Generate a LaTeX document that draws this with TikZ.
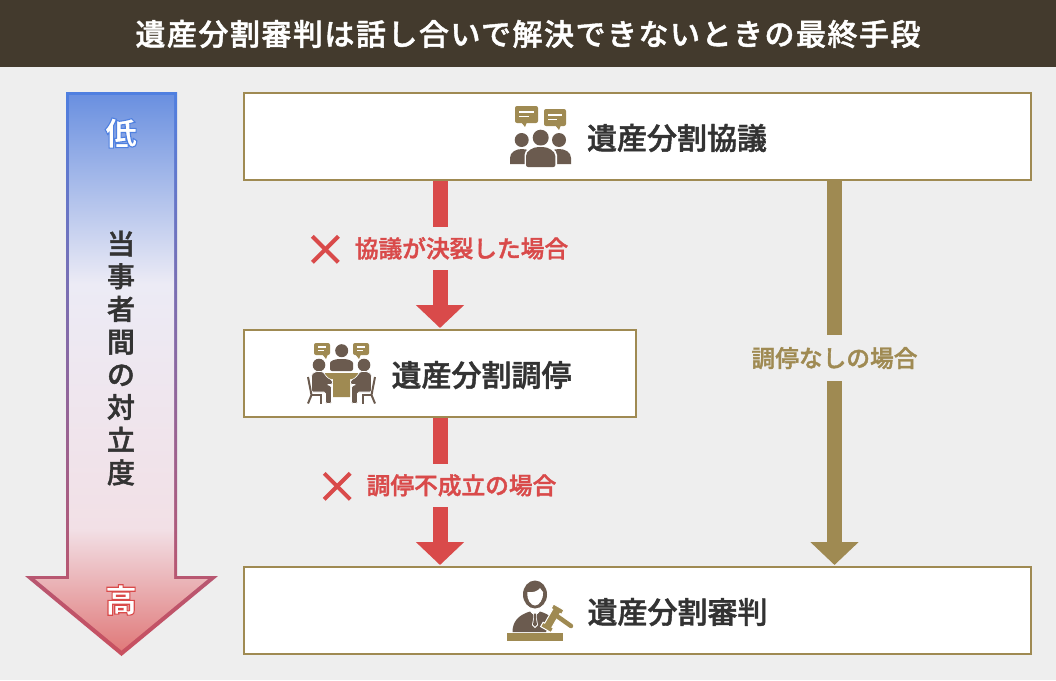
\documentclass[tikz,border=0pt]{standalone}
\usepackage{fontspec}
\setmainfont{Noto Sans CJK JP}
\newfontfamily\titlefont[LetterSpace=5,FakeBold=1.5]{Noto Sans CJK JP Medium}
\newfontfamily\medfont[FakeBold=1.5]{Noto Sans CJK JP Medium}
\newfontfamily\markfont{Noto Sans CJK JP Black}
\usetikzlibrary{arrows.meta,calc,positioning}
\definecolor{pagebg}{HTML}{EEEEEE}
\definecolor{titlebg}{HTML}{433A2D}
\definecolor{gold}{HTML}{9F8A52}
\definecolor{umber}{HTML}{6B5B4F}
\definecolor{flowred}{HTML}{D94A4A}
\definecolor{inkgray}{HTML}{333333}
\definecolor{lowblue}{HTML}{4F7FE0}
\definecolor{highred}{HTML}{C9505F}
\definecolor{fillhigh}{HTML}{E07A7A}
\definecolor{fillpink}{HTML}{F2E0E6}
\definecolor{fillpale}{HTML}{ECEBF5}
\definecolor{filllow}{HTML}{6A90E0}
\pgfdeclareverticalshading{scalefill}{100bp}{color(0bp)=(fillhigh);color(25bp)=(fillhigh);color(36bp)=(fillpink);color(58bp)=(fillpale);color(75bp)=(filllow);color(100bp)=(filllow)}
\pgfdeclareverticalshading{scaleline}{100bp}{color(0bp)=(highred);color(25bp)=(highred);color(75bp)=(lowblue);color(100bp)=(lowblue)}
\tikzset{%
  stagebox/.style={draw=gold,line width=2pt,fill=white,inner sep=0pt,minimum height=87pt},
  stagetext/.style={text=inkgray,font=\medfont\fontsize{30}{36}\selectfont,inner sep=0pt},
  flowlabel/.style={fill=pagebg,inner sep=0pt,minimum height=43pt,font=\medfont\fontsize{23.7}{28}\selectfont,pos=.455},
  redflow/.style={draw=flowred,line width=15pt,-{Triangle[length=23pt,width=47pt]},shorten >=1pt},
  goldflow/.style={draw=gold,line width=15pt,-{Triangle[length=23pt,width=47pt]},shorten >=1pt},
  crossmark/.style={draw=flowred,line width=4pt},
  levelmark/.style={inner sep=0pt,font=\markfont\fontsize{32}{34}\selectfont}
}
% white letter with a coloured edge: the stroke colour as r g b
\newcommand{\edgedmark}[2]{\special{pdf:code q 2 Tr 1.1 w #1 RG 1 1 1 rg}#2\special{pdf:code Q}}
% speech bubble: left, top, right, bottom, tail x
\newcommand{\talkbubble}[5]{%
  \fill[gold,rounded corners=2pt] (#1,#2) rectangle (#3,#4);
  \fill[gold] ({#5-3},{#4-1}) -- ({#5+3},{#4-1}) -- ({#5+1},{#4+4}) -- cycle;
  \draw[white,line width=1.5pt] ({#1+4},{#2+(#4-#2)*.35}) -- ({#3-4},{#2+(#4-#2)*.35});
  \draw[white,line width=1.5pt] ({#1+4},{#2+(#4-#2)*.62}) -- ({(#1+#3)/2+2},{#2+(#4-#2)*.62});
}
\begin{document}
\begin{tikzpicture}[x=1pt,y=-1pt]
  \fill[pagebg] (0,0) rectangle (1056,680);
  \fill[titlebg] (0,0) rectangle (1056,67);

  % conflict scale
  \path[shading=scaleline] (66,92) -- (177,92) -- (177,576) -- (218,576) -- (121.5,656) -- (25,576) -- (66,576) -- cycle;
  \path[shading=scalefill] (69,95) -- (174,95) -- (174,579) -- (208,579) -- (121.5,650.5) -- (35,579) -- (69,579) -- cycle;
  \node[levelmark] (low) at (121,133) {\edgedmark{.31 .5 .88}{低}};
  \node[levelmark] (high) at (121,600) {\edgedmark{.85 .29 .29}{高}};
  \node[text=inkgray,inner sep=0pt,align=center,font=\medfont\fontsize{28}{32.7}\selectfont] (scale) at (121,358) {当\\事\\者\\間\\の\\対\\立\\度};

  \node[text=white,inner sep=0pt] (title) at (528,34) {\titlefont\fontsize{30}{36}\selectfont 遺産分割審判は話し合いで解決できないときの最終手段};

  % stages
  \node[stagebox,minimum width=787pt] (kyogi) at (637.5,136.5) {};
  \node[stagebox,minimum width=392pt] (chotei) at (440,373.5) {};
  \node[stagebox,minimum width=787pt] (shinpan) at (637.5,610.5) {};
  \node[stagetext] (kyogi text) at (677,138) {遺産分割協議};
  \node[stagetext] (chotei text) at (481.5,375) {遺産分割調停};
  \node[stagetext] (shinpan text) at (677.5,612) {遺産分割審判};

  % flows
  \draw[redflow] (chotei.north |- kyogi.south) -- node[flowlabel,text=flowred,xshift=21.5pt] (lbl1) {協議が決裂した場合} (chotei.north);
  \draw[redflow] (chotei.south) -- node[flowlabel,text=flowred,xshift=21.5pt] (lbl2) {調停不成立の場合} (chotei.south |- shinpan.north);
  \draw[goldflow] ([xshift=197pt] kyogi.south) -- node[flowlabel,text=gold,pos=.46,minimum height=46pt] (lbl3) {調停なしの場合} ([xshift=197pt] shinpan.north);
  \foreach \n in {lbl1,lbl2} {%
    \draw[crossmark] ([shift={(-35,-12)}] \n.west) -- ([shift={(-9,14)}] \n.west);
    \draw[crossmark] ([shift={(-9,-12)}] \n.west) -- ([shift={(-35,14)}] \n.west);
  }

  % icon: group talk
  \talkbubble{515}{106}{538}{123}{524}
  \talkbubble{544}{109}{566}{126}{558}
  \fill[umber] (521.7,140) circle (7);
  \fill[umber] (559,140) circle (7);
  \fill[umber] (510,164) -- (510,158) .. controls (510,152) and (516,149) .. (522,149) .. controls (528,149) and (532,152) .. (534,156) -- (534,164) -- cycle;
  \fill[umber] (571,164) -- (571,158) .. controls (571,152) and (565,149) .. (559,149) .. controls (553,149) and (549,152) .. (547,156) -- (547,164) -- cycle;
  \fill[white] (540.7,137.7) circle (9.5);
  \fill[umber] (540.7,137.7) circle (8);
  \fill[white,rounded corners=3pt] (524.5,168) -- (524.5,158) .. controls (524.5,150) and (532,145.5) .. (540.7,145.5) .. controls (549,145.5) and (557,150) .. (557,158) -- (557,168) -- cycle;
  \fill[umber,rounded corners=2pt] (526,167) -- (526,158) .. controls (526,151) and (533,147) .. (540.7,147) .. controls (548,147) and (555.3,151) .. (555.3,158) -- (555.3,167) -- cycle;

  % icon: mediation table
  \talkbubble{314}{343}{330}{355}{325}
  \talkbubble{353}{343}{369}{355}{358}
  \fill[umber] (341.7,350.7) circle (6.5);
  \fill[umber,rounded corners=2pt] (330,371) -- (330,365) .. controls (330,361) and (335,359) .. (341.7,359) .. controls (348,359) and (353,361) .. (353,365) -- (353,371) -- cycle;
  \fill[gold] (325,373) -- (358,373) -- (358,379) -- (350,379) -- (350,397) -- (333,397) -- (333,379) -- (325,379) -- cycle;
  \foreach \s in {1,-1} {%
    \begin{scope}[shift={(341.5,0)},xscale=\s]
      \fill[umber] (-22.5,365) circle (6.3);
      \fill[umber,draw=white,line width=.6pt,rounded corners=1.5pt] (-30,378) .. controls (-30,373) and (-26,371.5) .. (-22,371.5) .. controls (-19,371.5) and (-17,373) .. (-15,377) -- (-9,380.5) -- (-9,384.5) -- (-15,384.5) -- (-10,386) -- (-10,403.5) -- (-16,403.5) -- (-16,392) -- (-30,392) -- cycle;
      \draw[umber,line width=2pt] (-33.5,377) -- (-30,395) -- (-33.5,403.5);
      \draw[umber,line width=2pt] (-30,395) -- (-21,395) -- (-21,403.5);
    \end{scope}
  }

  % icon: judge and gavel
  \fill[umber] (535,594.5) ellipse (12 and 14);
  \fill[white] (527.5,592) .. controls (533,593) and (538,591) .. (540,588) .. controls (541,590) and (542.5,591) .. (543,592) .. controls (543.5,600) and (539,605.5) .. (535,605.5) .. controls (531,605.5) and (526.5,600) .. (527.5,592) -- cycle;
  \fill[umber] (512.5,632) .. controls (512.5,622) and (518,615) .. (530,611.5) -- (535,616) -- (540,611.5) .. controls (545,613) and (549,615) .. (552,618) -- (546,632) -- cycle;
  \fill[white] (530,611.5) -- (540,611.5) -- (535,616) -- cycle;
  \fill[white] (533,613) -- (537,613) -- (536.5,617) -- (538,625) -- (535,628) -- (532,625) -- (533.5,617) -- cycle;
  \fill[umber] (533.8,613.5) -- (536.2,613.5) -- (535.8,617) -- (537,624.5) -- (535,626.5) -- (533,624.5) -- (534.2,617) -- cycle;
  \begin{scope}[shift={(552.3,618.3)},rotate=-30]
    \fill[gold,draw=white,line width=1pt] (-6,-13) -- (6,-13) -- (6,-8) -- (4.2,-8) -- (4.2,8) -- (6,8) -- (6,13) -- (-6,13) -- (-6,8) -- (-4.2,8) -- (-4.2,-8) -- (-6,-8) -- cycle;
  \end{scope}
  \draw[gold,line width=4.5pt,line cap=round] (555.5,615) -- (571,626);
  \fill[gold] (507,633) rectangle (563,640.5);
\end{tikzpicture}
\end{document}
